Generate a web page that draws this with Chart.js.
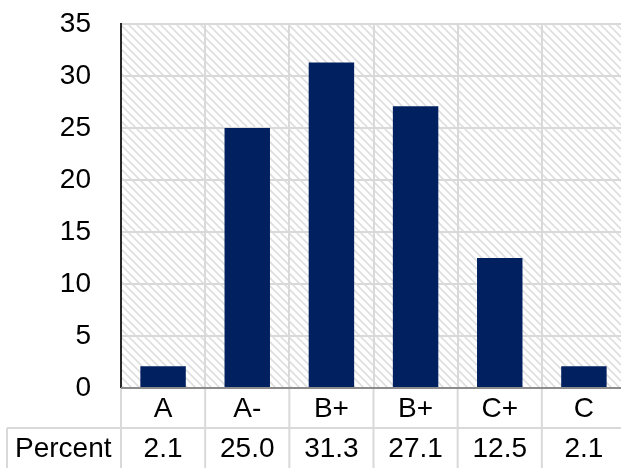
<!DOCTYPE html>
<html>
<head>
<meta charset="utf-8">
<script src="https://cdn.jsdelivr.net/npm/chart.js@4.4.0/dist/chart.umd.min.js"></script>
<style>
  html, body { margin: 0; padding: 0; background: #fff; overflow: hidden; }
  #wrap { width: 627px; height: 468px; }
</style>
</head>
<body>
<div id="wrap"><canvas id="gradeChart" width="627" height="468"></canvas></div>
<script>
// --- Data ---
const grades = ['A', 'A-', 'B+', 'B+', 'C+', 'C'];
const percents = [2.1, 25.0, 31.3, 27.1, 12.5, 2.1];
const rowLabel = 'Percent';
const yMax = 35;
const yStep = 5;

// --- Style ---
const FONT = "'Liberation Sans', Arial, sans-serif";
const BAR = '#002060';
const GRID = '#d9d9d9';

// diagonal hatch used behind the bars
function makeHatch() {
  const t = document.createElement('canvas');
  t.width = 8; t.height = 8;
  const c = t.getContext('2d');
  c.strokeStyle = '#dedede';
  c.lineWidth = 1.6;
  c.beginPath();
  c.moveTo(0, 0); c.lineTo(8, 8);
  c.moveTo(-2, 6); c.lineTo(2, 10);
  c.moveTo(6, -2); c.lineTo(10, 2);
  c.stroke();
  return t;
}

const hatchBg = {
  id: 'hatchBg',
  beforeDraw(chart) {
    const { ctx, chartArea: a } = chart;
    ctx.save();
    ctx.fillStyle = ctx.createPattern(makeHatch(), 'repeat');
    ctx.fillRect(a.left, a.top, a.right - a.left, a.bottom - a.top);
    ctx.restore();
  }
};

// data table under the plot
const dataTable = {
  id: 'dataTable',
  afterDraw(chart) {
    const { ctx, chartArea: a } = chart;
    const x = chart.scales.x;
    const row1 = a.bottom, row2 = a.bottom + 40, row3 = a.bottom + 80;
    const n = grades.length;
    const edges = [a.left];
    for (let i = 0; i < n - 1; i++) {
      edges.push((x.getPixelForValue(i) + x.getPixelForValue(i + 1)) / 2);
    }
    edges.push(a.right);

    ctx.save();
    ctx.strokeStyle = GRID;
    ctx.lineWidth = 2;
    ctx.beginPath();
    edges.forEach(e => { ctx.moveTo(e, row1); ctx.lineTo(e, row3); });
    ctx.moveTo(7, row2); ctx.lineTo(7, row3);
    ctx.moveTo(7, row2); ctx.lineTo(chart.width, row2);
    ctx.stroke();

    ctx.fillStyle = '#000';
    ctx.font = `28px ${FONT}`;
    ctx.textBaseline = 'middle';
    ctx.textAlign = 'center';
    grades.forEach((g, i) => {
      const cx = x.getPixelForValue(i);
      ctx.fillText(g, cx, (row1 + row2) / 2 + 1);
      ctx.fillText(percents[i].toFixed(1), cx, (row2 + row3) / 2 + 1);
    });
    ctx.textAlign = 'left';
    ctx.fillText(rowLabel, 15, (row2 + row3) / 2 + 1);

    // x axis line on top of everything
    ctx.strokeStyle = '#8c8c8c';
    ctx.beginPath();
    ctx.moveTo(a.left, row1); ctx.lineTo(chart.width, row1);
    ctx.stroke();
    ctx.restore();
  }
};

new Chart(document.getElementById('gradeChart'), {
  type: 'bar',
  data: {
    labels: grades,
    datasets: [{
      data: percents,
      backgroundColor: BAR,
      borderWidth: 0,
      barPercentage: 0.54,
      categoryPercentage: 1
    }]
  },
  options: {
    responsive: false,
    animation: false,
    layout: { padding: { top: 24, bottom: 80, left: 0, right: 1 } },
    plugins: { legend: { display: false }, tooltip: { enabled: false } },
    scales: {
      x: {
        offset: true,
        grid: { color: GRID, lineWidth: 2, offset: true, drawTicks: false },
        border: { display: false },
        ticks: { display: false },
        afterFit: s => { s.height = 0; s.paddingLeft = 0; s.paddingRight = 0; }
      },
      y: {
        min: 0, max: yMax,
        grid: { color: GRID, lineWidth: 2, drawTicks: false },
        border: { color: '#262626', width: 2 },
        ticks: { stepSize: yStep, padding: 30, color: '#000', font: { family: FONT, size: 28 } },
        afterFit: s => { s.width = 121; s.paddingTop = 0; s.paddingBottom = 0; }
      }
    }
  },
  plugins: [hatchBg, dataTable]
});
</script>
</body>
</html>
